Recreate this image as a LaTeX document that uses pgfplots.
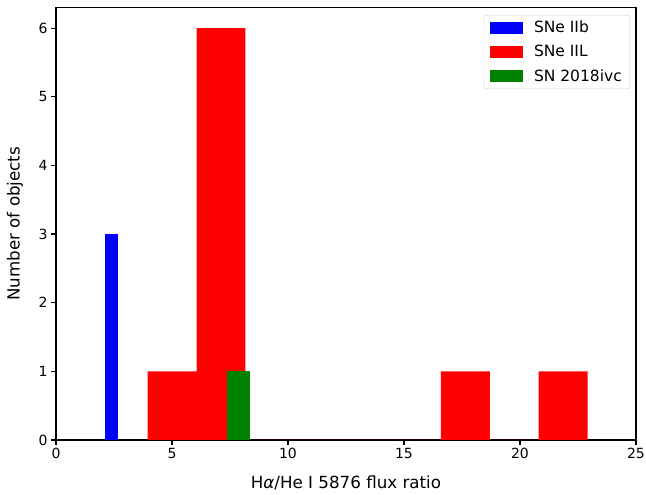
\documentclass[border=0pt]{standalone}
\usepackage{pgfplots}
\pgfplotsset{compat=1.18}
\usepackage{fontspec}
\setmainfont{DejaVu Sans}

% histogram bin edges and counts
\pgfplotstableread{
x      y
2.125  3
2.685  0
}\tabIIb
\pgfplotstableread{
x       y
3.950   1
6.057   6
8.164   0
10.271  0
12.378  0
14.485  0
16.592  1
18.699  0
20.806  1
22.913  0
}\tabIIL
\pgfplotstableread{
x      y
7.380  1
8.370  0
}\tabIvc

\begin{document}
\begin{tikzpicture}
\useasboundingbox (-56pt,-55pt) rectangle (590pt,440pt);
\begin{axis}[
  at={(0pt,0pt)}, anchor=south west,
  scale only axis,
  width=580pt, height=432.5pt,
  xmin=0, xmax=25, ymin=0, ymax=6.3,
  xtick={0,5,...,25}, ytick={0,1,...,6},
  axis line style={line width=1.1pt},
  tick style={line width=1.1pt, black},
  tick align=outside, major tick length=5pt,
  xtick pos=bottom, ytick pos=left,
  /pgf/number format/assume math mode=true,
  tick label style={font=\fontsize{14}{16}\selectfont},
  xlabel={H\textit{α}/He I 5876 flux ratio},
  ylabel={Number of objects},
  label style={font=\fontsize{16.7}{19}\selectfont},
  xlabel style={at={(rel axis cs:0.5,0)}, anchor=center, yshift=-43pt},
  ylabel style={at={(rel axis cs:0,0.5)}, anchor=center, yshift=41pt},
  legend style={
    at={(0.9897,0.9827)}, anchor=north east,
    draw=black!20, rounded corners=2pt, fill=white,
    font=\fontsize{15.5}{18}\selectfont,
    row sep=7pt, inner xsep=6pt, inner ysep=4pt,
    /tikz/every odd column/.append style={column sep=9pt},
  },
  legend cell align=left,
  legend image code/.code={\fill[#1, sharp corners] (0pt,-6pt) rectangle (33pt,6pt);},
]
\addplot[ybar interval, fill=blue, draw=none] table[x=x, y=y] {\tabIIb};
\addlegendentry{SNe IIb}
\addplot[ybar interval, fill=red, draw=none] table[x=x, y=y] {\tabIIL};
\addlegendentry{SNe IIL}
\addplot[ybar interval, fill=green!50!black, draw=none] table[x=x, y=y] {\tabIvc};
\addlegendentry{SN 2018ivc}
\end{axis}
\end{tikzpicture}
\end{document}
